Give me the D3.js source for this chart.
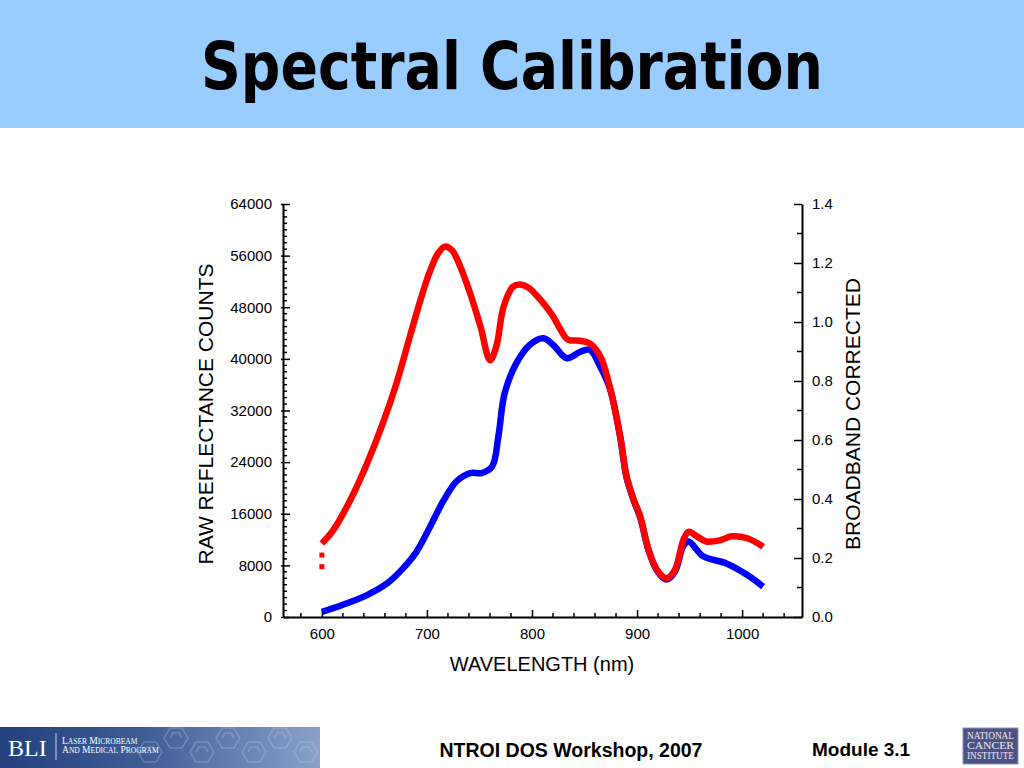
<!DOCTYPE html>
<html>
<head>
<meta charset="utf-8">
<script src="https://cdn.jsdelivr.net/npm/d3@7"></script>
<style>
  body { margin: 0; background: #fff; }
  svg { display: block; }
</style>
</head>
<body>
<svg id="slide" width="1024" height="768"></svg>
<script>
// values
const redNm = [600, 611, 627, 643, 658, 671, 684, 694, 702, 710, 717, 724, 732, 741, 751, 760, 766, 773, 782, 790, 797, 804, 812, 820, 827, 834, 846, 855, 865, 874, 884, 890, 897, 903, 911, 919, 928, 936, 944, 949, 957, 966, 979, 990, 1005, 1020];
const redCounts = [11400, 13500, 18100, 23800, 30000, 36200, 43600, 49200, 53200, 56200, 57400, 56800, 54200, 50200, 45000, 39800, 41900, 48100, 51200, 51500, 51000, 49900, 48400, 46600, 44600, 43000, 42800, 42400, 40400, 35700, 28000, 21800, 18100, 15600, 10400, 7300, 6000, 7300, 11900, 13200, 12500, 11700, 11900, 12500, 12200, 10900];

const blueNm = [600, 620, 643, 662, 677, 690, 703, 716, 728, 741, 752, 762, 768, 774, 785, 798, 811, 820, 833, 846, 855, 865, 874, 884, 890, 897, 903, 911, 919, 928, 936, 944, 949, 963, 985, 1005, 1020];
const blueCounts = [800, 1900, 3400, 5200, 7500, 10100, 14000, 18100, 21000, 22300, 22300, 23300, 28000, 34700, 39300, 42200, 43200, 42200, 40100, 41100, 41400, 38800, 35500, 27800, 21600, 18000, 15400, 10300, 7200, 5800, 7000, 11000, 11700, 9400, 8300, 6500, 4700];

// stray red points below the start of the red trace
const redStrayNm = [600, 600];
const redStrayCounts = [9600, 7800];

const xTicks = [600, 700, 800, 900, 1000];
const leftTicks = [0, 8000, 16000, 24000, 32000, 40000, 48000, 56000, 64000];
const rightTicks = [0, 0.2, 0.4, 0.6, 0.8, 1.0, 1.2, 1.4];

const svg = d3.select("#slide");

// header band + title
svg.append("rect")
    .attr("x", 0).attr("y", 0)
    .attr("width", 1024).attr("height", 128)
    .attr("fill", "#99ccff");

svg.append("text")
    .attr("x", 512).attr("y", 89)
    .attr("text-anchor", "middle")
    .attr("font-family", "'DejaVu Sans Condensed', 'DejaVu Sans', sans-serif")
    .attr("font-weight", "bold")
    .attr("font-size", 66)
    .attr("textLength", 622)
    .attr("lengthAdjust", "spacingAndGlyphs")
    .attr("fill", "#000")
    .text("Spectral Calibration");

// scales
const x = d3.scaleLinear().domain([563, 1057]).range([283, 802]);
const y = d3.scaleLinear().domain([0, 64000]).range([617, 204]);
const yRight = d3.scaleLinear().domain([0, 1.4]).range([617, 204]);

const chartFont = "'Liberation Sans', Arial, sans-serif";

// minor ticks first so majors sit over them
const minorLeft = d3.range(0, 64001, 1000).filter(v => v % 8000 !== 0);
const minorX = d3.range(580, 1057, 20).filter(v => v % 100 !== 0);
const minorRight = d3.range(1, 14, 2).map(v => v / 10);

const axisG = svg.append("g").attr("stroke", "#000").attr("stroke-width", 1.5);

axisG.selectAll("line.ml")
    .data(minorLeft)
    .enter().append("line")
    .attr("x1", 283).attr("x2", 287)
    .attr("y1", d => y(d)).attr("y2", d => y(d));

axisG.selectAll("line.mx")
    .data(minorX)
    .enter().append("line")
    .attr("x1", d => x(d)).attr("x2", d => x(d))
    .attr("y1", 617).attr("y2", 613);

axisG.selectAll("line.mr")
    .data(minorRight)
    .enter().append("line")
    .attr("x1", 802).attr("x2", 797)
    .attr("y1", d => yRight(d)).attr("y2", d => yRight(d));

function styleAxis(g) {
    g.select(".domain").attr("stroke", "#000").attr("stroke-width", 2);
    g.selectAll(".tick line").attr("stroke", "#000").attr("stroke-width", 1.5);
    g.selectAll(".tick text")
        .attr("font-family", chartFont)
        .attr("font-size", 15)
        .attr("fill", "#000");
}

svg.append("g")
    .attr("transform", "translate(283,0)")
    .call(d3.axisLeft(y).tickValues(leftTicks).tickSize(-7).tickSizeOuter(0).tickPadding(11).tickFormat(d3.format("d")))
    .call(styleAxis)
    .call(g => g.selectAll(".tick line").attr("x1", -2));

svg.append("g")
    .attr("transform", "translate(0,617)")
    .call(d3.axisBottom(x).tickValues(xTicks).tickSize(-7).tickSizeOuter(0).tickPadding(11).tickFormat(d3.format("d")))
    .call(styleAxis);

svg.append("g")
    .attr("transform", "translate(802,0)")
    .call(d3.axisRight(yRight).tickValues(rightTicks).tickSize(-8).tickSizeOuter(0).tickPadding(10).tickFormat(d3.format(".1f")))
    .call(styleAxis);

// axis titles
svg.append("text")
    .attr("transform", "translate(213,414) rotate(-90)")
    .attr("text-anchor", "middle")
    .attr("font-family", chartFont)
    .attr("font-size", 21)
    .text("RAW REFLECTANCE COUNTS");

svg.append("text")
    .attr("transform", "translate(860,414) rotate(-90)")
    .attr("text-anchor", "middle")
    .attr("font-family", chartFont)
    .attr("font-size", 21)
    .text("BROADBAND CORRECTED");

svg.append("text")
    .attr("x", 542).attr("y", 671)
    .attr("text-anchor", "middle")
    .attr("font-family", chartFont)
    .attr("font-size", 20)
    .text("WAVELENGTH (nm)");

// traces
const line = d3.line()
    .x(d => x(d[0]))
    .y(d => y(d[1]))
    .curve(d3.curveCatmullRom.alpha(0.5));

svg.append("path")
    .datum(d3.zip(blueNm, blueCounts))
    .attr("d", line)
    .attr("fill", "none")
    .attr("stroke", "#0000ff")
    .attr("stroke-width", 6.5)
    .attr("stroke-linejoin", "round");

svg.append("path")
    .datum(d3.zip(redNm, redCounts))
    .attr("d", line)
    .attr("fill", "none")
    .attr("stroke", "#ff0000")
    .attr("stroke-width", 6.5)
    .attr("stroke-linejoin", "round");

svg.selectAll("rect.stray")
    .data(d3.zip(redStrayNm, redStrayCounts))
    .enter().append("rect")
    .attr("x", d => x(d[0]) - 2.5)
    .attr("y", d => y(d[1]) - 2.5)
    .attr("width", 5).attr("height", 5)
    .attr("fill", "#ff0000");

// footer: BLI banner
const defs = svg.append("defs");
const grad = defs.append("linearGradient").attr("id", "bliGrad");
grad.append("stop").attr("offset", "0%").attr("stop-color", "#23417d");
grad.append("stop").attr("offset", "45%").attr("stop-color", "#3d5d96");
grad.append("stop").attr("offset", "100%").attr("stop-color", "#8aa1c8");

svg.append("rect")
    .attr("x", 0).attr("y", 727)
    .attr("width", 320).attr("height", 41)
    .attr("fill", "url(#bliGrad)");

// faint interlocking pattern on the right of the banner
const hex = svg.append("g")
    .attr("stroke", "#c4d2e8").attr("stroke-opacity", 0.3)
    .attr("fill", "none").attr("stroke-width", 1.5);
d3.range(150, 320, 26).forEach((cx, i) => {
    const cy = i % 2 ? 738 : 752;
    hex.append("path")
        .attr("d", `M${cx - 12},${cy} l6,-10 l12,0 l6,10 l-6,10 l-12,0 z M${cx - 6},${cy} l3,-5 l6,0 l3,5`);
});

const serif = "'Liberation Serif', 'DejaVu Serif', serif";

svg.append("text")
    .attr("x", 8).attr("y", 756)
    .attr("font-family", serif)
    .attr("font-size", 24)
    .attr("fill", "#fff")
    .text("BLI");

svg.append("line")
    .attr("x1", 56).attr("x2", 56)
    .attr("y1", 733).attr("y2", 760)
    .attr("stroke", "#c8d4ea").attr("stroke-width", 1);

// small-caps lines of the banner
function smallCaps(words, yPos) {
    const t = svg.append("text")
        .attr("x", 62).attr("y", yPos)
        .attr("font-family", serif)
        .attr("fill", "#fff");
    words.forEach((w, i) => {
        t.append("tspan").attr("font-size", 9.5).text((i ? " " : "") + w[0]);
        t.append("tspan").attr("font-size", 7.5).text(w.slice(1));
    });
}
smallCaps(["LASER", "MICROBEAM"], 744);
smallCaps(["AND", "MEDICAL", "PROGRAM"], 753);

// footer texts
svg.append("text")
    .attr("x", 571).attr("y", 757)
    .attr("text-anchor", "middle")
    .attr("font-family", chartFont)
    .attr("font-weight", "bold")
    .attr("font-size", 19.5)
    .text("NTROI DOS Workshop, 2007");

svg.append("text")
    .attr("x", 812).attr("y", 756)
    .attr("font-family", chartFont)
    .attr("font-weight", "bold")
    .attr("font-size", 19)
    .text("Module 3.1");

// NCI logo
svg.append("rect")
    .attr("x", 963).attr("y", 728)
    .attr("width", 55).attr("height", 36)
    .attr("fill", "#4c5284")
    .attr("stroke", "#8f93b5").attr("stroke-width", 1);

["NATIONAL", "CANCER", "INSTITUTE"].forEach((t, i) => {
    svg.append("text")
        .attr("x", 967).attr("y", 739 + i * 10)
        .attr("font-family", serif)
        .attr("font-size", 10)
        .attr("textLength", 47)
        .attr("lengthAdjust", "spacingAndGlyphs")
        .attr("fill", "#e8e8f2")
        .text(t);
});
</script>
</body>
</html>
